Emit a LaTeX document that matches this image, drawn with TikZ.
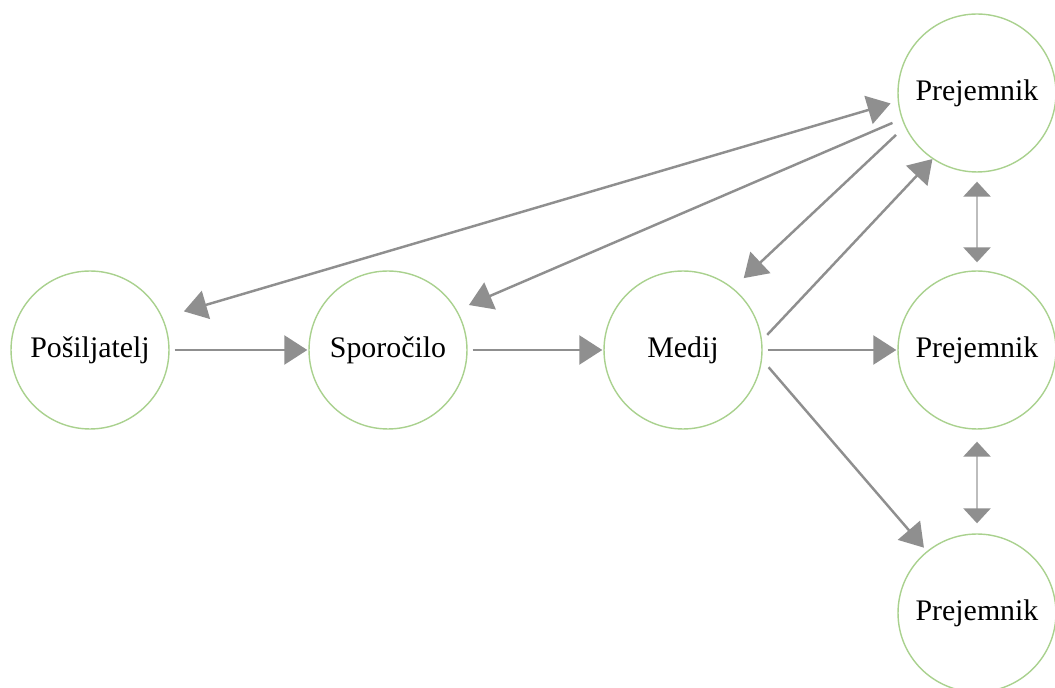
\documentclass[tikz,border=0pt]{standalone}
\usepackage{fontspec}
\setmainfont{Liberation Serif}
\usetikzlibrary{arrows.meta}
\definecolor{zelena}{HTML}{A9D18E}
\definecolor{siva}{HTML}{8F8F8F}
\definecolor{svetlosiva}{HTML}{BDBDBD}
\tikzset{
  krog/.style={circle, draw=zelena, line width=0.8pt, minimum size=3.16cm, inner sep=0pt,
    font=\fontsize{17}{20}\selectfont},
  puscica/.style={draw=siva, line width=1.4pt, -{Triangle[length=0.46cm,width=0.58cm,color=siva]}},
  dvojna/.style={draw=svetlosiva, line width=1.6pt,
    {Triangle[length=0.3cm,width=0.54cm,color=siva]}-{Triangle[length=0.3cm,width=0.54cm,color=siva]}}
}
\begin{document}
\begin{tikzpicture}[x=0.02cm,y=-0.02cm]
    \useasboundingbox (0,0) rectangle (1055,688);  %okvir slike
    \node[krog] (pos) at (90,350) {Pošiljatelj};
    \node[krog] (spo) at (388,350) {Sporočilo};
    \node[krog] (med) at (683,350) {Medij};
    \foreach \ime/\y in {prejA/93, prejB/350, prejC/613}
    {
      \node[krog] (\ime) at (977,\y) {Prejemnik};
    }
    %vodoravne puscice
    \foreach \a/\b in {pos/spo, spo/med, med/prejB}
    {
      \draw[puscica, shorten <=0.1cm, shorten >=0.02cm] (\a.east) -- (\b.west);
    }
    %od medija k prejemnikom
    \draw[puscica, shorten <=0.15cm] (med.7) -- (prejA.236);
    \draw[puscica, shorten <=0.2cm, shorten >=0.09cm] (med.353) -- (prejC.129);
    %povratne puscice
    \draw[puscica, shorten <=0.24cm, shorten >=0.29cm] (prejA.205) -- (med.51);
    \draw[puscica, shorten <=0.2cm, shorten >=0.26cm] (prejA.199) -- (spo.30);
    \draw[puscica, {Triangle[length=0.46cm,width=0.58cm,color=siva]}-{Triangle[length=0.46cm,width=0.58cm,color=siva]},
      shorten <=0.44cm, shorten >=0.15cm] (pos.24) -- (prejA.186);
    %med prejemniki
    \draw[dvojna, shorten <=0.18cm, shorten >=0.16cm] (prejA.south) -- (prejB.north);
    \draw[dvojna, shorten <=0.24cm, shorten >=0.2cm] (prejB.south) -- (prejC.north);
\end{tikzpicture}
\end{document}
